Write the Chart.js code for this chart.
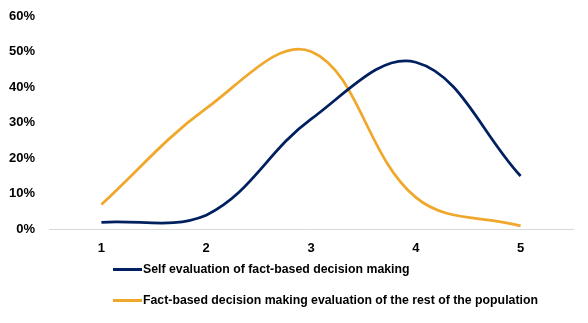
<!DOCTYPE html>
<html>
<head>
<meta charset="utf-8">
<script src="https://cdn.jsdelivr.net/npm/chart.js@4/dist/chart.umd.min.js"></script>
<style>
  body { margin: 0; background: #fff; }
  #wrap { position: relative; width: 588px; height: 323px; }
  #legend { position: absolute; left: 113px; top: 260px; font: bold 12.3px "Liberation Sans", Arial, sans-serif; color: #000; }
  .item { display: flex; align-items: center; height: 18px; margin-bottom: 13px; white-space: nowrap; }
  .swatch { width: 29px; height: 3px; margin-right: 1px; }
</style>
</head>
<body>
<div id="wrap">
  <canvas id="chart" width="588" height="323"></canvas>
  <div id="legend"></div>
</div>
<script>
  const categories = ['1', '2', '3', '4', '5'];
  const selfEvaluation = [2, 4, 31, 47, 15];
  const restOfPopulation = [7, 34, 50, 9, 1];
  const seriesNames = [
    'Self evaluation of fact-based decision making',
    'Fact-based decision making evaluation of the rest of the population'
  ];
  const colors = ['#002060', '#F0A82C'];

  const chartRef = document.getElementById('chart');

  const myChart = new Chart(chartRef, {
    type: 'line',
    data: {
      labels: categories,
      datasets: [{
        label: seriesNames[0],
        data: selfEvaluation,
        borderColor: colors[0],
        backgroundColor: colors[0],
        borderWidth: 2.75,
        pointRadius: 0,
        tension: 0.38
      }, {
        label: seriesNames[1],
        data: restOfPopulation,
        borderColor: colors[1],
        backgroundColor: colors[1],
        borderWidth: 2.75,
        pointRadius: 0,
        tension: 0.38
      }]
    },
    options: {
      responsive: false,
      animation: false,
      layout: { padding: { top: 16, left: 9, right: 15, bottom: 56 } },
      plugins: {
        legend: { display: false },
        tooltip: { enabled: false }
      },
      scales: {
        x: {
          offset: true,
          grid: { display: false, drawTicks: false },
          border: { display: true, color: '#d9d9d9', width: 1 },
          ticks: {
            color: '#000',
            padding: 11,
            font: { family: '"Liberation Sans", Arial, sans-serif', size: 13, weight: 'bold' }
          }
        },
        y: {
          min: 0,
          max: 60,
          grid: { display: false, drawTicks: false },
          border: { display: false },
          afterFit: (scale) => { scale.width = 40; scale.paddingTop = 0; },
          ticks: {
            stepSize: 10,
            color: '#000',
            padding: 14,
            font: { family: '"Liberation Sans", Arial, sans-serif', size: 13, weight: 'bold' },
            callback: (v) => v + '%'
          }
        }
      }
    }
  });

  // legend below the plot, one series per row
  const legend = document.getElementById('legend');
  myChart.data.datasets.forEach((ds) => {
    const row = document.createElement('div');
    row.className = 'item';
    const sw = document.createElement('span');
    sw.className = 'swatch';
    sw.style.background = ds.borderColor;
    const txt = document.createElement('span');
    txt.textContent = ds.label;
    row.appendChild(sw);
    row.appendChild(txt);
    legend.appendChild(row);
  });
</script>
</body>
</html>
